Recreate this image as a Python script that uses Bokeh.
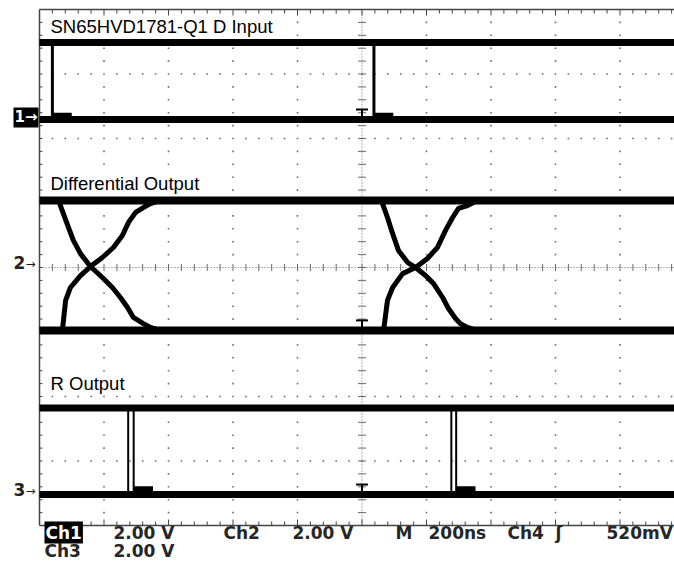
import numpy as np
from bokeh.plotting import figure
from bokeh.models import Range1d, Label
from bokeh.embed import file_html
from bokeh.resources import INLINE

# ---------------- scope settings ----------------
time_per_div_ns = 200.0
volts_per_div = 2.0
n_xdiv = 10
n_ydiv = 8

# channel reference (ground marker) positions, divisions from screen centre
ch1_ref_div = 2.295
ch2_ref_div = 0.0
ch3_ref_div = -3.52

# ---------------- Ch1: D input ----------------
ch1_levels_v = [0.0, 2.39]
ch1_edges_ns = [40, 1037]
ch1_ring_v = 0.15
ch1_ring_len_ns = 60

# ---------------- Ch2: differential output ----------------
ch2_levels_v = [-1.95, 2.08]
ch2_fall1_ns = [59, 74, 90, 105, 127, 158, 195, 226, 251, 273, 291, 322, 344, 375]
ch2_fall1_v = [2.08, 1.67, 1.24, 0.84, 0.43, 0.03, -0.31, -0.62, -0.93, -1.24, -1.55, -1.74, -1.86, -1.95]
ch2_rise1_ns = [71, 81, 96, 127, 158, 195, 229, 257, 276, 298, 322, 344, 375]
ch2_rise1_v = [-1.95, -1.02, -0.62, -0.25, 0.03, 0.31, 0.62, 0.99, 1.40, 1.71, 1.86, 1.98, 2.08]
ch2_fall2_ns = [1060, 1079, 1095, 1113, 1141, 1166, 1197, 1222, 1250, 1268, 1290, 1305, 1327, 1358]
ch2_fall2_v = [2.08, 1.55, 1.05, 0.53, 0.16, 0.0, -0.25, -0.50, -0.93, -1.27, -1.58, -1.74, -1.86, -1.95]
ch2_rise2_ns = [1067, 1079, 1095, 1126, 1166, 1203, 1234, 1259, 1281, 1299, 1327, 1358]
ch2_rise2_v = [-1.95, -1.02, -0.62, -0.19, 0.0, 0.28, 0.62, 1.15, 1.55, 1.83, 1.92, 2.08]

# ---------------- Ch3: R output ----------------
ch3_levels_v = [0.0, 2.68]
ch3_edges_ns = [275, 292, 1277, 1292]
ch3_ring_v = 0.18
ch3_ring_len_ns = 60

# ---------------- texts ----------------
trace_titles = ["SN65HVD1781-Q1 D Input", "Differential Output", "R Output"]
status_row1 = ["Ch1", "2.00 V", "Ch2", "2.00 V", "M", "200ns", "Ch4", "\u0283", "520mV"]
status_row2 = ["Ch3", "2.00 V"]
marker_labels = ["1", "2", "3"]

# ---------------- layout (pixels) ----------------
W, H = 674, 562
PX = 64.5            # pixels per division
X0 = 39              # graticule left edge in figure px
YC = 267             # screen centre line in figure px (from top)
TXT_DY = 7           # label placement correction (px)


def fx(px):  # figure x pixel -> division coordinate
    return (px - X0) / PX


def fy(py):  # figure y pixel (from top) -> division coordinate
    return (YC - py) / PX


def t2x(t):
    return np.asarray(t, dtype=float) / time_per_div_ns


def v2y(v, ref):
    return ref + np.asarray(v, dtype=float) / volts_per_div


p = figure(width=W, height=H, output_backend="svg", toolbar_location=None,
           x_range=Range1d(fx(0), fx(W)), y_range=Range1d(fy(H), fy(0)),
           x_axis_type=None, y_axis_type=None, min_border=0)
p.outline_line_color = None
p.background_fill_color = "white"
p.border_fill_color = "white"

GRID = "#6a6a6a"
pxu = 1.0 / PX
top, bot = n_ydiv / 2, -n_ydiv / 2
xc = n_xdiv / 2

# dotted graticule (dots every 1/5 division)
dx, dy = [], []
for j in range(-3, 4):
    if j == 0:
        continue
    for k in range(1, n_xdiv * 5):
        dx.append(k / 5); dy.append(j)
for i in range(1, n_xdiv):
    if i == xc:
        continue
    for k in range(-19, 20):
        if k % 5 == 0:
            continue
        dx.append(i); dy.append(k / 5)
dots = p.scatter(dx, dy, marker="square", size=1.6, color=GRID, line_color=None)
dots.level = "underlay"

# centre lines (fine dotted) with ticks
p.segment([0], [0], [n_xdiv + 1], [0], line_color=GRID, line_width=1, line_dash="1 2")
p.segment([xc], [bot], [xc], [top], line_color=GRID, line_width=1, line_dash="1 2")
tx = [k / 5 for k in range(1, n_xdiv * 5 + 5)]
p.segment(tx, [-3.5 * pxu] * len(tx), tx, [3.5 * pxu] * len(tx), line_color=GRID, line_width=1)
ty = [k / 5 for k in range(-19, 20)]
p.segment([xc - 4 * pxu] * len(ty), ty, [xc + 4 * pxu] * len(ty), ty, line_color=GRID, line_width=1)

# borders with ticks
p.segment([0, 0, 0], [top, bot, bot], [n_xdiv + 1, n_xdiv + 1, 0], [top, bot, top],
          line_color="#444444", line_width=1.5)
bx = [k / 5 for k in range(1, n_xdiv * 5 + 5)]
blen = [(6 if k % 5 == 0 else 4) * pxu for k in range(1, n_xdiv * 5 + 5)]
p.segment(bx, [top] * len(bx), bx, [top - l for l in blen], line_color="#444444", line_width=1)
p.segment(bx, [bot] * len(bx), bx, [bot + l for l in blen], line_color="#444444", line_width=1)
ly = [k / 5 for k in range(-19, 20)]
p.segment([0] * len(ly), ly, [3 * pxu] * len(ly), ly, line_color="#444444", line_width=1)

# ---- trace titles (white box over the graticule dots, under the traces) ----
title_pos = [(49, 33), (49, 190), (49, 390)]
for txt, (x, y) in zip(trace_titles, title_pos):
    p.add_layout(Label(x=fx(x), y=fy(y - TXT_DY), text=txt, text_font="Liberation Sans",
                       text_font_size="18.5px", text_color="black", text_baseline="alphabetic",
                       background_fill_color="white", padding=1, level="underlay"))

TR = "black"
xend = n_xdiv + 1

# ---- Ch1 ----
for v in ch1_levels_v:
    yy = float(v2y(v, ch1_ref_div))
    p.segment([0], [yy], [xend], [yy], line_color=TR, line_width=7)
lo1, hi1 = float(v2y(ch1_levels_v[0], ch1_ref_div)), float(v2y(ch1_levels_v[1], ch1_ref_div))
e1 = t2x(ch1_edges_ns)
p.segment(e1, [lo1] * len(e1), e1, [hi1] * len(e1), line_color=TR, line_width=3)
r1 = t2x(np.array(ch1_edges_ns) + ch1_ring_len_ns)
p.segment(e1, [float(v2y(ch1_ring_v, ch1_ref_div))] * len(e1), r1,
          [float(v2y(ch1_ring_v, ch1_ref_div))] * len(e1), line_color=TR, line_width=4)

# ---- Ch2 ----
for v in ch2_levels_v:
    yy = float(v2y(v, ch2_ref_div))
    p.segment([0], [yy], [xend], [yy], line_color=TR, line_width=8)
for ts, vs in [(ch2_fall1_ns, ch2_fall1_v), (ch2_rise1_ns, ch2_rise1_v),
               (ch2_fall2_ns, ch2_fall2_v), (ch2_rise2_ns, ch2_rise2_v)]:
    p.line(t2x(ts), v2y(vs, ch2_ref_div), line_color=TR, line_width=5, line_join="round")

# ---- Ch3 ----
for v in ch3_levels_v:
    yy = float(v2y(v, ch3_ref_div))
    p.segment([0], [yy], [xend], [yy], line_color=TR, line_width=7)
lo3, hi3 = float(v2y(ch3_levels_v[0], ch3_ref_div)), float(v2y(ch3_levels_v[1], ch3_ref_div))
e3 = t2x(ch3_edges_ns)
p.segment(e3, [lo3] * len(e3), e3, [hi3] * len(e3), line_color=TR, line_width=2)
e3b = t2x(ch3_edges_ns[1::2])
r3 = t2x(np.array(ch3_edges_ns[1::2]) + ch3_ring_len_ns)
yr3 = float(v2y(ch3_ring_v, ch3_ref_div))
p.segment(e3b, [yr3] * len(e3b), r3, [yr3] * len(e3b), line_color=TR, line_width=5)

# ---- trigger "T" markers at screen centre ----
for ref, lo in [(ch1_ref_div, ch1_levels_v[0]), (ch2_ref_div, ch2_levels_v[0]), (ch3_ref_div, ch3_levels_v[0])]:
    yb = float(v2y(lo, ref)) + 10 * pxu
    p.segment([xc - 6 * pxu], [yb], [xc + 6 * pxu], [yb], line_color=TR, line_width=2)
    p.segment([xc], [yb], [xc], [yb - 7 * pxu], line_color=TR, line_width=2)

# ---- channel markers ----
mk_y = [float(v2y(ch1_levels_v[0], ch1_ref_div)), float(ch2_ref_div),
        float(v2y(ch3_levels_v[0], ch3_ref_div))]
p.add_layout(Label(x=fx(13), y=mk_y[0] + 2 * pxu, text=marker_labels[0] + "\u2192", text_font="DejaVu Sans",
                   text_font_style="bold", text_font_size="15px", text_color="white",
                   text_baseline="middle", background_fill_color="black", padding=1))
for lab, yy in zip(marker_labels[1:], mk_y[1:]):
    p.add_layout(Label(x=fx(13), y=yy + 5 * pxu, text=lab, text_font="DejaVu Sans", text_font_style="bold",
                       text_font_size="17px", text_color="#222222", text_baseline="middle"))
    p.add_layout(Label(x=fx(25), y=yy + 4 * pxu, text="\u2192", text_font="DejaVu Sans",
                       text_font_size="12px", text_color="#222222", text_baseline="middle"))

# ---- status line ----
row1_x = [44, 113, 223, 292, 395, 428, 507, 555, 606]
row1_base = 539
row2_x = [44, 113]
row2_base = 557
for i, (txt, x) in enumerate(zip(status_row1, row1_x)):
    inv = (i == 0)
    p.add_layout(Label(x=fx(x), y=fy(row1_base - TXT_DY), text=txt, text_font="DejaVu Sans",
                       text_font_style="bold", text_font_size="17px",
                       text_color="white" if inv else "#262626", text_baseline="alphabetic",
                       background_fill_color="black" if inv else None, padding=1 if inv else 0))
for txt, x in zip(status_row2, row2_x):
    p.add_layout(Label(x=fx(x), y=fy(row2_base - TXT_DY), text=txt, text_font="DejaVu Sans",
                       text_font_style="bold", text_font_size="17px", text_color="#262626",
                       text_baseline="alphabetic"))

open("out.html", "w").write(file_html(p, INLINE))
